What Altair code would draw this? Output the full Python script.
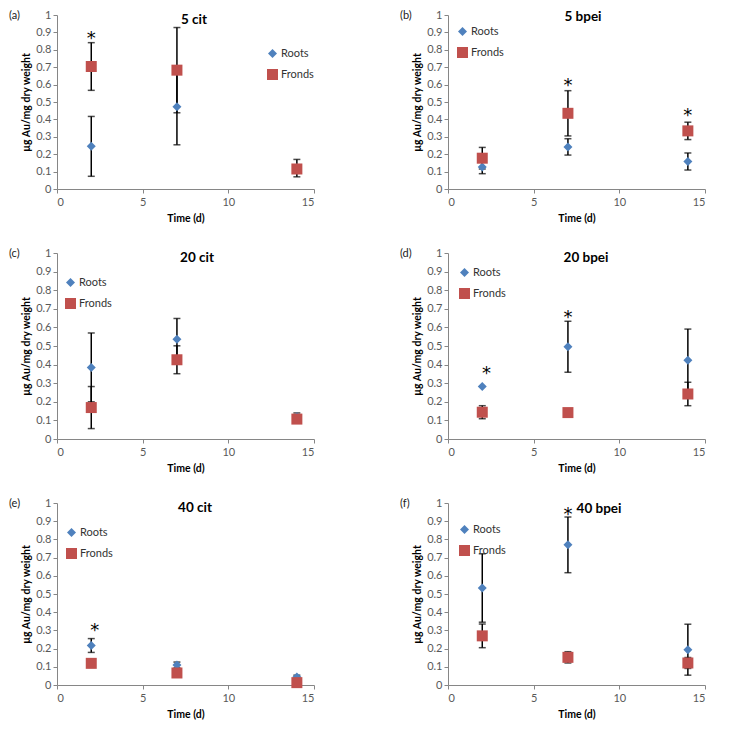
import altair as alt
import pandas as pd

days = [2, 7, 14]
series_names = ["Roots", "Fronds"]
series_colors = ["#4F81BD", "#C0504D"]
series_shapes = ["diamond", "square"]
series_sizes = [81, 121]

panel_keys = ["a", "b", "c", "d", "e", "f"]
panel_titles = ["5 cit", "5 bpei", "20 cit", "20 bpei", "40 cit", "40 bpei"]

roots_mean = {
    "a": [0.245, 0.472, 0.120],
    "b": [0.126, 0.242, 0.158],
    "c": [0.385, 0.536, 0.120],
    "d": [0.282, 0.496, 0.424],
    "e": [0.217, 0.110, 0.044],
    "f": [0.533, 0.770, 0.194],
}
roots_err = {
    "a": [0.172, 0.218, 0.050],
    "b": [0.038, 0.047, 0.049],
    "c": [0.185, 0.112, 0.020],
    "d": [0.000, 0.137, 0.167],
    "e": [0.038, 0.016, 0.010],
    "f": [0.188, 0.153, 0.140],
}
fronds_mean = {
    "a": [0.704, 0.683, 0.115],
    "b": [0.177, 0.435, 0.334],
    "c": [0.169, 0.426, 0.107],
    "d": [0.144, 0.142, 0.242],
    "e": [0.119, 0.066, 0.013],
    "f": [0.270, 0.152, 0.121],
}
fronds_err = {
    "a": [0.137, 0.245, 0.010],
    "b": [0.062, 0.130, 0.050],
    "c": [0.113, 0.075, 0.010],
    "d": [0.035, 0.000, 0.063],
    "e": [0.022, 0.008, 0.005],
    "f": [0.065, 0.031, 0.030],
}
# significance asterisks (day, height)
star_day = {"a": [2], "b": [7, 14], "c": [], "d": [2.25, 7], "e": [2.2], "f": [7]}
star_val = {"a": [0.883], "b": [0.616, 0.44], "c": [], "d": [0.371, 0.673], "e": [0.316], "f": [0.957]}

y_ticks = [0, 0.1, 0.2, 0.3, 0.4, 0.5, 0.6, 0.7, 0.8, 0.9, 1]
x_ticks = [0, 5, 10, 15]

# layout-only settings
title_x = {"a": 137, "b": 135, "c": 140, "d": 138, "e": 138, "f": 151}
title_y = {"a": 5, "b": 2, "c": 5, "d": 5, "e": 5, "f": 6}
legend_xy = {"a": (210, 33), "b": (9, 11), "c": (8, 24), "d": (11, 14), "e": (9, 24), "f": (11, 21)}
row_heights = [174, 186, 182]

W = 257

xscale = alt.Scale(domain=[0, 15], nice=False)
yscale = alt.Scale(domain=[0, 1], nice=False)
xaxis = alt.Axis(values=x_ticks, title="Time (d)", format="~g")
yaxis = alt.Axis(values=y_ticks, title="µg Au/mg dry weight", format="~g")


def panel(k, title, h):
    rows = []
    for i, d in enumerate(days):
        rows.append({"day": d, "series": "Roots", "mean": roots_mean[k][i], "err": roots_err[k][i]})
    for i, d in enumerate(days):
        rows.append({"day": d, "series": "Fronds", "mean": fronds_mean[k][i], "err": fronds_err[k][i]})
    df = pd.DataFrame(rows)
    df["lo"] = df["mean"] - df["err"]
    df["hi"] = df["mean"] + df["err"]
    dferr = df[df["err"] > 0]

    err = alt.Chart(dferr).mark_errorbar(
        ticks={"size": 7, "thickness": 1.5, "color": "black"},
        thickness=1.5, color="black"
    ).encode(
        x=alt.X("day:Q", scale=xscale, axis=xaxis),
        y=alt.Y("lo:Q", scale=yscale, axis=yaxis),
        y2="hi:Q",
    )

    lx, ly = legend_xy[k]
    leg = alt.Legend(orient="none", legendX=lx, legendY=ly, title=None)
    pts = alt.Chart(df).mark_point(filled=True, opacity=1, strokeWidth=0).encode(
        x=alt.X("day:Q", scale=xscale, axis=xaxis),
        y=alt.Y("mean:Q", scale=yscale, axis=yaxis),
        color=alt.Color("series:N", scale=alt.Scale(domain=series_names, range=series_colors), legend=leg),
        shape=alt.Shape("series:N", scale=alt.Scale(domain=series_names, range=series_shapes), legend=leg),
        size=alt.Size("series:N", scale=alt.Scale(domain=series_names, range=series_sizes), legend=leg),
    )

    layers = [err, pts]
    if star_day[k]:
        sdf = pd.DataFrame({"day": star_day[k], "v": star_val[k], "s": ["*"] * len(star_day[k])})
        stars = alt.Chart(sdf).mark_text(
            fontSize=18, color="black", baseline="middle", font="DejaVu Sans", dy=4
        ).encode(
            x=alt.X("day:Q", scale=xscale, axis=xaxis),
            y=alt.Y("v:Q", scale=yscale, axis=yaxis),
            text="s:N",
        )
        layers.append(stars)

    tt = alt.Chart(pd.DataFrame({"t": [title]})).mark_text(
        fontSize=13.5, fontWeight="bold", color="black", baseline="middle", align="center"
    ).encode(x=alt.value(title_x[k]), y=alt.value(title_y[k]), text="t:N")
    lab = alt.Chart(pd.DataFrame({"t": [f"({k})"]})).mark_text(
        fontSize=11, color="#222222", baseline="middle", align="left"
    ).encode(x=alt.value(-48), y=alt.value(1), text="t:N")
    layers += [tt, lab]
    return alt.layer(*layers).properties(width=W, height=h).resolve_scale(
        color="shared", shape="shared", size="shared"
    )


rows_charts = []
for r in range(3):
    kl, kr = panel_keys[2 * r], panel_keys[2 * r + 1]
    left = panel(kl, panel_titles[2 * r], row_heights[r])
    right = panel(kr, panel_titles[2 * r + 1], row_heights[r])
    rows_charts.append(
        alt.hconcat(left, right, spacing=85).resolve_scale(
            color="independent", shape="independent", size="independent"
        )
    )

chart = alt.vconcat(*rows_charts, spacing=23).resolve_scale(
    color="independent", shape="independent", size="independent"
).properties(
    padding={"left": 1, "top": 1, "right": 5, "bottom": 5}
).configure(
    font="Lato"
).configure_view(
    stroke=None
).configure_axis(
    grid=False,
    domainColor="#868686",
    tickColor="#868686",
    tickSize=4,
    labelColor="#595959",
    labelFontSize=11,
    labelFont="Lato",
    titleFont="Lato",
    titleFontSize=10.5,
    titleFontWeight="bold",
    titleColor="#000000",
).configure_axisY(
    labelPadding=2, titlePadding=4
).configure_axisX(
    labelPadding=3, titlePadding=6
).configure_legend(
    padding=0, rowPadding=9, labelFontSize=11, labelColor="#333333", labelFont="Lato",
    symbolStrokeWidth=0, labelOffset=3
)

chart.save("out.html", embed_options={"renderer": "svg", "actions": False})
